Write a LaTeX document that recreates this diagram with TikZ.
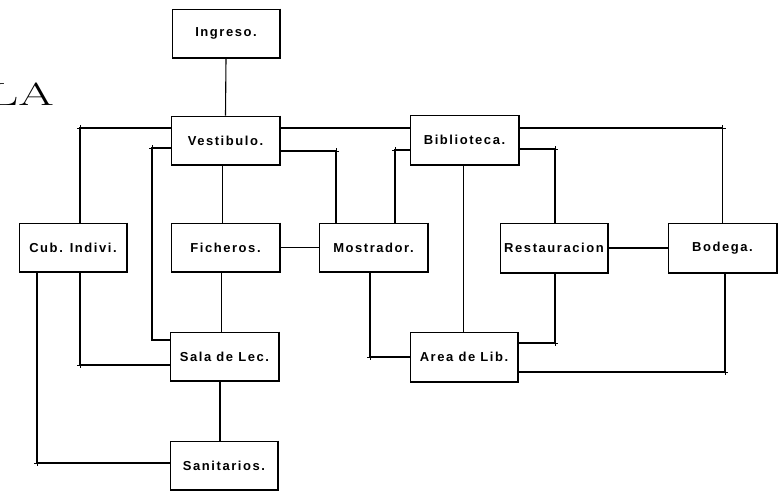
\documentclass[tikz,border=0pt]{standalone}
\usepackage{fontspec}
\newfontfamily\labelfont[LetterSpace=12]{Liberation Sans}
\begin{document}
\begin{tikzpicture}[x=1pt,y=1pt,
  room/.style={draw, line width=0.9pt, minimum width=108pt, minimum height=49pt,
    inner sep=1pt, font=\labelfont\bfseries\fontsize{13}{15}\selectfont},
  link/.style={line width=1.1pt},
  edge/.style={line width=2pt},
  tickmark/.style={line width=0.9pt}]
\useasboundingbox (0,0) rectangle (782,497);
\newcommand\heavyedge[1]{\draw[edge] (#1.north east) -- (#1.south east) -- (#1.south west);}
\newcommand\tickat[1]{\draw[tickmark] (#1) +(-3,0) -- +(3,0) (#1) +(0,-3) -- +(0,3);}

% title fragment
\node[anchor=base east, inner sep=0pt] (title) at (54,391)
  {\scalebox{1.6}[1]{\fontsize{32}{32}\selectfont LA}};

% rooms
\node[room] (ing) at (226,463.5) {Ingreso.};
\node[room] (ves) at (225.5,356.5) {Vestibulo.};
\node[room] (bib) at (464.5,357) {Biblioteca.};
\node[room] (cub) at (73,249.5) {Cub. Indivi.};
\node[room] (fic) at (225.5,249.5) {Ficheros.};
\node[room] (mos) at (373.5,249.5) {Mostrador.};
\node[room] (res) at (554,249) {Restauracion};
\node[room] (bod) at (722.5,249) {Bodega.};
\node[room] (sal) at (224.5,140.5) {Sala de Lec.};
\node[room] (are) at (464,140) {Area de Lib.};
\node[room] (san) at (224,31.5) {Sanitarios.};
\foreach \n in {ing,ves,bib,cub,fic,mos,res,bod,sal,are,san} {\heavyedge{\n}}

% connectors
\draw[link] (ing.south) -- (ves.north);
\draw[link] ([yshift=12.5pt]ves.west) -| coordinate (k1) ([xshift=7pt]cub.north);
\coordinate (c1) at (152,157);
\draw[link] ([yshift=-7.5pt]ves.west) -| coordinate (k2) (c1) -- (c1 -| sal.west);
\draw[link] ([xshift=-3pt]ves.south) -- ([xshift=-3pt]fic.north);
\draw[link] ([yshift=12.5pt]ves.east) -- ([yshift=12.5pt]ves.east -| bib.west);
\draw[link] ([yshift=-10.5pt]ves.east) -| coordinate (k3) ([xshift=-37.5pt]mos.north);
\draw[link] ([yshift=-10pt]bib.west) -| coordinate (k4) ([xshift=21.5pt]mos.north);
\draw[link] ([yshift=12pt]bib.east) -| coordinate (k5) (bod.north);
\draw[link] ([yshift=-9pt]bib.east) -| coordinate (k6) ([xshift=1pt]res.north);
\draw[link] ([xshift=-1pt]bib.south) -- ([xshift=-1pt]bib.south |- are.north);
\draw[link] (fic.east) -- (mos.west);
\draw[link] ([xshift=-4pt]fic.south) -- ([xshift=-4pt]fic.south |- sal.north);
\draw[link] (res.east) -- (bod.west);
\draw[link] ([xshift=7pt]cub.south) |- coordinate (k7) ([yshift=-8.5pt]sal.west);
\draw[link] ([xshift=-36pt]cub.south) |- coordinate (k8) ([yshift=2.5pt]san.west);
\draw[link] ([xshift=-4.5pt]sal.south) -- ([xshift=-4.5pt]sal.south |- san.north);
\draw[link] ([xshift=-3.5pt]mos.south) |- coordinate (k9) (are.west);
\draw[link] ([xshift=1pt]res.south) |- coordinate (k10) ([yshift=14pt]are.east);
\draw[link] ([yshift=-15pt]are.east) -| coordinate (k11) ([xshift=2.5pt]bod.south);

\foreach \k in {k1,k2,k3,k4,k5,k6,k7,k8,k9,k10,k11} {\tickat{\k}}
\end{tikzpicture}
\end{document}
